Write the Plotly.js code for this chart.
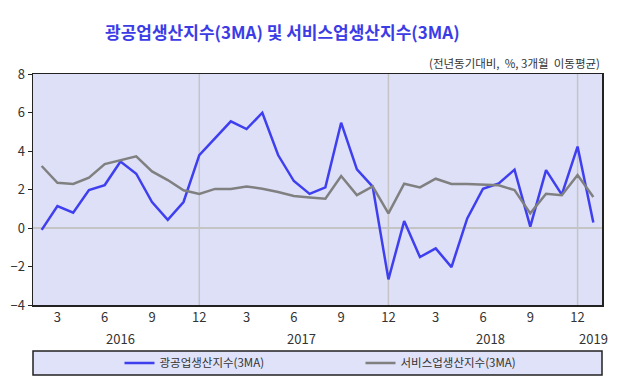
<!DOCTYPE html>
<html><head><meta charset="utf-8">
<script src="https://cdn.plot.ly/plotly-3.0.1.min.js"></script>
<style>html,body{margin:0;padding:0;background:#fff}#chart{width:626px;height:390px}</style>
</head><body><div id="chart"></div>
<script>
const months = ['2016-02','2016-03','2016-04','2016-05','2016-06','2016-07','2016-08','2016-09','2016-10','2016-11','2016-12',
'2017-01','2017-02','2017-03','2017-04','2017-05','2017-06','2017-07','2017-08','2017-09','2017-10','2017-11','2017-12',
'2018-01','2018-02','2018-03','2018-04','2018-05','2018-06','2018-07','2018-08','2018-09','2018-10','2018-11','2018-12','2019-01'];
const mining = [-0.1,1.14,0.8,1.97,2.23,3.45,2.82,1.35,0.42,1.35,3.79,
4.66,5.54,5.14,5.99,3.79,2.44,1.77,2.11,5.47,3.05,2.15,-2.67,
0.36,-1.51,-1.06,-2.03,0.5,2.04,2.32,3.03,0.07,3.01,1.73,4.23,0.28];
const service = [3.22,2.35,2.29,2.61,3.32,3.52,3.72,2.94,2.49,1.96,1.77,
2.03,2.03,2.16,2.04,1.87,1.66,1.59,1.52,2.70,1.71,2.16,0.76,
2.3,2.11,2.56,2.29,2.29,2.25,2.22,1.97,0.76,1.78,1.7,2.75,1.61];
const seriesNames = ['광공업생산지수(3MA)','서비스업생산지수(3MA)'];
const years = ['2016','2017','2018','2019'];
const yTicks = [-4,-2,0,2,4,6,8];

const xi = months.map((m,i)=>i);
const tickIdx = xi.filter(i=>parseInt(months[i].slice(5))%3===0);
const tickText = tickIdx.map(i=>String(parseInt(months[i].slice(5))));
const yearCenters = years.map(y=>{const ids=xi.filter(i=>months[i].startsWith(y));return ids.reduce((a,b)=>a+b,0)/ids.length;});
const decIdx = xi.filter(i=>months[i].endsWith('-12'));

const font = '"Noto Sans CJK KR", "Noto Sans", sans-serif';
const traces = [
 {x:xi, y:mining, name:seriesNames[0], type:'scatter', mode:'lines', line:{color:'#3f3ff0', width:2.5}},
 {x:xi, y:service, name:seriesNames[1], type:'scatter', mode:'lines', line:{color:'#808080', width:2.5}}
];
const shapes = decIdx.map(i=>({type:'line', xref:'x', yref:'paper', x0:i, x1:i, y0:0, y1:1, line:{color:'#c4c4c4', width:1.5}, layer:'below'}));
shapes.push({type:'rect', xref:'paper', yref:'paper', x0:0, x1:1, y0:-0.303, y1:-0.199, fillcolor:'#dfe2f8', line:{color:'#222', width:1.5}});
const annotations = yearCenters.map((c,k)=>({x:c, y:0, xref:'x', yref:'paper', yanchor:'top', yshift:-22, text:years[k], showarrow:false, font:{family:font, size:13, color:'#333'}}));
annotations.push({x:1, y:1, xref:'paper', yref:'paper', xanchor:'right', yanchor:'bottom', yshift:1, text:'(전년동기대비,  %, 3개월  이동평균)', showarrow:false, font:{family:font, size:11.5, color:'#333'}});

const layout = {
 width:626, height:390,
 margin:{l:33, r:24, t:74, b:85, autoexpand:false},
 paper_bgcolor:'#fff', plot_bgcolor:'#dde0f7',
 title:{text:'광공업생산지수(3MA) 및 서비스업생산지수(3MA)', x:0.451, xanchor:'center', y:0.915, yanchor:'middle', font:{family:font, size:17, color:'#3c3ce6', weight:'bold'}},
 showlegend:true,
 legend:{orientation:'h', x:0.152, xanchor:'left', y:-0.251, yanchor:'middle', bgcolor:'rgba(0,0,0,0)', font:{family:font, size:11.5, color:'#333'}, entrywidth:196, entrywidthmode:'pixels'},
 xaxis:{range:[-0.55,35.55], tickmode:'array', tickvals:tickIdx, ticktext:tickText, showgrid:false, zeroline:false, showline:true, mirror:true, linecolor:'#222', linewidth:1.5, ticks:'', tickfont:{family:font, size:13, color:'#333'}, fixedrange:true},
 yaxis:{range:[-4,8], tickmode:'array', tickvals:yTicks, showgrid:false, zeroline:true, zerolinecolor:'#c4c4c4', zerolinewidth:1.5, showline:true, mirror:true, linecolor:'#222', linewidth:1.5, ticks:'outside', ticklen:4, tickcolor:'#222', tickfont:{family:font, size:13, color:'#333'}, fixedrange:true},
 shapes:shapes, annotations:annotations
};
Plotly.newPlot('chart', traces, layout, {displayModeBar:false, staticPlot:true});
</script></body></html>
